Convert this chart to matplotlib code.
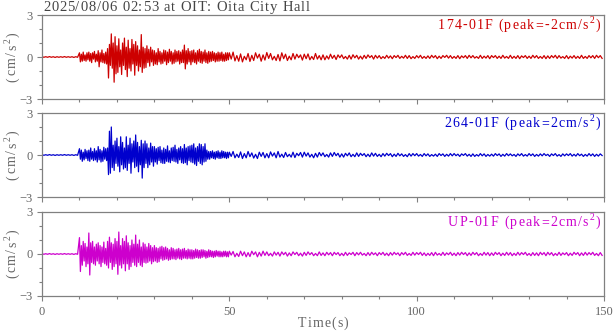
import numpy as np
import matplotlib
matplotlib.use("Agg")
import matplotlib.pyplot as plt
from matplotlib.font_manager import FontProperties, findfont, get_font

plt.rcParams['font.family'] = ['Liberation Serif', 'DejaVu Serif']

title = "2025/08/06 02:53 at OIT: Oita City Hall"
labels = [[("174-01F (peak=-2cm/s", False), ("2", True), (")", False)],
          [("264-01F (peak=2cm/s", False), ("2", True), (")", False)],
          [("UP-01F (peak=2cm/s", False), ("2", True), (")", False)]]
ylabel = [("(cm/s", False), ("2", True), (")", False)]
xlabel = "Time(s)"
colors = ["#cd0000", "#0000cd", "#cd00cd"]
x_ticks = [0, 50, 100, 150]
y_ticks = [-3, 0, 3]

# sample times (s)
t_pre = np.arange(0, 10, 0.5)
t_main = np.arange(10, 50, 0.25)
t_tail = np.arange(50, 150, 0.5)

pre_noise = [0.02, -0.02, 0.02, -0.02, 0.03, -0.02, 0.02, -0.03, 0.02, -0.02,
             0.02, -0.02, 0.03, -0.02, 0.02, -0.02, 0.02, -0.03, 0.02, -0.02]

red_main = [0.3, -0.35, 0.2, -0.3, 0.35, -0.25, 0.15, -0.3, 0.3, -0.2,
            0.35, -0.3, 0.25, -0.4, 0.3, -0.15, 0.4, -0.35, 0.2, -0.3,
            0.45, -0.7, 0.3, -0.35, 0.5, -0.4, 0.25, -0.45, 0.35, -0.5,
            0.6, -1.5, 0.9, -0.6, 1.65, -0.8, 1.0, -1.8, 1.45, -1.2,
            0.8, -1.1, 1.3, -0.7, 0.5, -1.25, 1.0, -0.6, 1.35, -0.9,
            0.7, -1.4, 1.2, -0.8, 0.6, -1.0, 1.25, -0.5, 0.9, -1.3,
            1.1, -0.6, 0.8, -1.0, 0.5, -0.7, 1.6, -1.1, 0.7, -0.8,
            0.6, -0.75, 0.8, -0.4, 0.55, -0.65, 0.7, -0.35, 0.5, -0.6,
            0.45, -0.5, 0.3, -0.55, 0.6, -0.35, 0.4, -0.5, 0.3, -0.45,
            0.5, -0.3, 0.45, -0.55, 0.35, -0.4, 0.55, -0.3, 0.4, -0.5,
            0.3, -0.45, 0.5, -0.35, 0.4, -0.3, 0.45, -0.5, 0.35, -0.4,
            0.5, -0.4, 0.85, -0.85, 0.45, -0.5, 0.6, -0.35, 0.4, -0.55,
            0.45, -0.35, 0.5, -0.4, 0.3, -0.5, 0.45, -0.3, 0.55, -0.4,
            0.4, -0.45, 0.35, -0.3, 0.5, -0.4, 0.3, -0.45, 0.4, -0.35,
            0.35, -0.3, 0.4, -0.25, 0.3, -0.35, 0.25, -0.3, 0.35, -0.3,
            0.3, -0.25, 0.35, -0.3, 0.2, -0.3, 0.3, -0.25, 0.3, -0.2]
red_tail = [0.3, -0.15, 0.35, -0.28, 0.1, -0.3, 0.22, -0.35, 0.05, -0.2,
            0.25, -0.32, 0.12, -0.25, 0.3, -0.08, 0.2, -0.3, 0.15, -0.22,
            0.32, -0.1, 0.25, -0.2, 0.05, -0.25, 0.18, -0.28, 0.3, -0.12,
            0.2, -0.25, 0.06, -0.2, 0.25, -0.15, 0.2, -0.05, 0.15, -0.22,
            0.2, -0.12, 0.22, -0.2, 0.04, -0.18, 0.25, -0.15, 0.1, -0.2,
            0.15, -0.2, 0.08, -0.15, 0.2, -0.1, 0.12, -0.18, 0.15, -0.05,
            0.15, -0.12, 0.04, -0.15, 0.12, -0.15, 0.16, -0.06, 0.12, -0.15,
            0.06, -0.15, 0.12, -0.1, 0.15, -0.04, 0.1, -0.15, 0.12, -0.08,
            0.1, -0.12, 0.03, -0.1, 0.12, -0.08, 0.08, -0.12, 0.1, -0.04,
            0.12, -0.1, 0.05, -0.08, 0.12, -0.1, 0.1, -0.12, 0.03, -0.1,
            0.1, -0.06, 0.12, -0.1, 0.04, -0.1, 0.08, -0.1, 0.12, -0.05,
            0.1, -0.12, 0.06, -0.1, 0.1, -0.03, 0.12, -0.08, 0.1, -0.1,
            0.04, -0.1, 0.1, -0.12, 0.08, -0.05, 0.1, -0.1, 0.12, -0.06,
            0.1, -0.08, 0.03, -0.1, 0.12, -0.1, 0.06, -0.08, 0.1, -0.12,
            0.1, -0.04, 0.1, -0.1, 0.06, -0.1, 0.12, -0.08, 0.04, -0.1,
            0.12, -0.1, 0.05, -0.1, 0.1, -0.12, 0.08, -0.04, 0.1, -0.1,
            0.06, -0.1, 0.12, -0.06, 0.1, -0.1, 0.04, -0.1, 0.1, -0.12,
            0.08, -0.1, 0.1, -0.05, 0.12, -0.1, 0.1, -0.08, 0.03, -0.1,
            0.1, -0.12, 0.06, -0.08, 0.1, -0.1, 0.05, -0.1, 0.12, -0.1,
            0.04, -0.1, 0.1, -0.06, 0.1, -0.1, 0.12, -0.05, 0.1, -0.1]

blue_main = [0.45, -0.3, 0.35, -0.45, 0.2, -0.35, 0.4, -0.25, 0.3, -0.4,
             0.35, -0.45, 0.5, -0.3, 0.25, -0.4, 0.45, -0.35, 0.3, -0.5,
             0.6, -0.35, 0.4, -0.5, 0.3, -0.45, 0.55, -0.3, 0.45, -0.4,
             0.5, -1.4, 1.7, -1.3, 2.0, -0.9, 0.7, -1.1, 1.0, -0.6,
             1.2, -0.8, 0.6, -1.2, 1.3, -0.7, 0.9, -1.0, 0.5, -0.9,
             1.3, -1.1, 0.7, -0.6, 1.2, -1.3, 0.8, -0.5, 1.0, -0.9,
             1.43, -0.8, 0.9, -1.2, 0.6, -0.7, 1.05, -1.65, 0.8, -0.9,
             1.0, -0.6, 0.8, -0.9, 0.5, -0.7, 0.85, -0.5, 0.6, -0.8,
             0.6, -0.5, 0.45, -0.65, 0.55, -0.4, 0.6, -0.55, 0.35, -0.6,
             0.5, -0.6, 0.4, -0.45, 0.65, -0.5, 0.3, -0.55, 0.5, -0.4,
             0.55, -0.45, 0.7, -0.5, 0.4, -0.6, 0.5, -0.35, 0.6, -0.55,
             0.45, -0.6, 0.75, -0.55, 0.5, -0.7, 0.6, -0.4, 0.65, -0.5,
             0.7, -0.55, 0.8, -0.65, 0.5, -0.75, 0.6, -0.45, 0.8, -0.6,
             0.75, -0.7, 0.6, -0.5, 0.8, -0.45, 0.35, -0.3, 0.25, -0.3,
             0.25, -0.2, 0.3, -0.25, 0.2, -0.3, 0.25, -0.2, 0.3, -0.25,
             0.2, -0.25, 0.3, -0.2, 0.25, -0.2, 0.2, -0.25, 0.2, -0.2]
blue_tail = [0.2, -0.1, 0.25, -0.2, 0.06, -0.18, 0.22, -0.25, 0.1, -0.2,
             0.25, -0.12, 0.15, -0.22, 0.05, -0.25, 0.2, -0.1, 0.18, -0.2,
             0.1, -0.2, 0.22, -0.08, 0.15, -0.2, 0.25, -0.15, 0.06, -0.18,
             0.18, -0.12, 0.05, -0.15, 0.2, -0.18, 0.12, -0.05, 0.18, -0.15,
             0.2, -0.08, 0.15, -0.15, 0.05, -0.2, 0.12, -0.15, 0.18, -0.06,
             0.15, -0.12, 0.04, -0.15, 0.15, -0.1, 0.18, -0.05, 0.12, -0.15,
             0.08, -0.15, 0.12, -0.06, 0.15, -0.12, 0.05, -0.12, 0.15, -0.1,
             0.12, -0.04, 0.1, -0.12, 0.06, -0.12, 0.15, -0.08, 0.12, -0.1,
             0.05, -0.12, 0.1, -0.08, 0.12, -0.04, 0.1, -0.12, 0.06, -0.1,
             0.12, -0.06, 0.08, -0.1, 0.03, -0.12, 0.1, -0.08, 0.1, -0.05,
             0.1, -0.08, 0.04, -0.1, 0.1, -0.06, 0.08, -0.1, 0.03, -0.08,
             0.06, -0.1, 0.1, -0.04, 0.08, -0.1, 0.05, -0.08, 0.1, -0.06,
             0.1, -0.05, 0.06, -0.1, 0.08, -0.03, 0.1, -0.08, 0.05, -0.1,
             0.08, -0.1, 0.03, -0.08, 0.1, -0.06, 0.08, -0.1, 0.04, -0.08,
             0.06, -0.08, 0.1, -0.04, 0.08, -0.1, 0.05, -0.08, 0.1, -0.05,
             0.08, -0.06, 0.04, -0.1, 0.08, -0.05, 0.1, -0.08, 0.03, -0.08,
             0.1, -0.05, 0.08, -0.1, 0.04, -0.08, 0.08, -0.06, 0.1, -0.04,
             0.05, -0.1, 0.08, -0.04, 0.1, -0.08, 0.03, -0.1, 0.08, -0.06,
             0.08, -0.04, 0.1, -0.08, 0.05, -0.08, 0.1, -0.05, 0.06, -0.1,
             0.04, -0.08, 0.1, -0.06, 0.08, -0.1, 0.05, -0.08, 0.08, -0.04]

mag_main = [1.17, -1.25, 0.6, -0.8, 0.9, -0.5, 0.75, -0.9, 0.5, -0.7,
            1.5, -1.5, 0.8, -0.6, 0.9, -0.7, 0.5, -0.8, 0.7, -0.5,
            0.8, -0.7, 0.6, -0.9, 0.5, -0.6, 0.85, -0.7, 0.4, -0.8,
            0.9, -1.0, 1.2, -0.6, 0.8, -1.1, 0.7, -0.9, 1.1, -0.7,
            0.9, -1.45, 1.57, -0.8, 0.6, -1.0, 1.1, -0.7, 0.9, -1.2,
            1.3, -0.7, 0.8, -1.1, 0.6, -0.9, 1.0, -0.6, 0.7, -0.8,
            1.35, -0.9, 0.7, -0.6, 1.0, -0.8, 0.5, -0.9, 0.8, -0.6,
            0.7, -0.65, 0.5, -0.6, 0.75, -0.5, 0.6, -0.7, 0.45, -0.55,
            0.6, -0.5, 0.45, -0.6, 0.4, -0.55, 0.5, -0.35, 0.55, -0.45,
            0.45, -0.4, 0.5, -0.35, 0.4, -0.45, 0.3, -0.4, 0.45, -0.35,
            0.4, -0.35, 0.3, -0.4, 0.35, -0.3, 0.4, -0.35, 0.3, -0.4,
            0.35, -0.3, 0.4, -0.3, 0.25, -0.35, 0.35, -0.3, 0.3, -0.35,
            0.3, -0.35, 0.25, -0.3, 0.35, -0.25, 0.3, -0.3, 0.25, -0.3,
            0.3, -0.25, 0.3, -0.2, 0.25, -0.3, 0.2, -0.25, 0.3, -0.2,
            0.25, -0.2, 0.2, -0.25, 0.2, -0.2, 0.25, -0.15, 0.2, -0.2,
            0.2, -0.2, 0.15, -0.2, 0.2, -0.15, 0.2, -0.2, 0.15, -0.2]
mag_tail = [0.2, -0.08, 0.18, -0.2, 0.05, -0.18, 0.2, -0.12, 0.15, -0.2,
            0.1, -0.18, 0.2, -0.05, 0.15, -0.2, 0.12, -0.15, 0.2, -0.1,
            0.15, -0.12, 0.05, -0.15, 0.15, -0.08, 0.12, -0.15, 0.15, -0.05,
            0.12, -0.15, 0.08, -0.12, 0.15, -0.04, 0.12, -0.12, 0.06, -0.15,
            0.12, -0.1, 0.15, -0.05, 0.1, -0.12, 0.04, -0.12, 0.15, -0.1,
            0.08, -0.12, 0.12, -0.06, 0.1, -0.12, 0.12, -0.04, 0.1, -0.12,
            0.05, -0.12, 0.12, -0.1, 0.08, -0.04, 0.12, -0.12, 0.1, -0.06,
            0.12, -0.08, 0.04, -0.12, 0.1, -0.1, 0.12, -0.05, 0.08, -0.12,
            0.1, -0.05, 0.12, -0.1, 0.06, -0.12, 0.1, -0.08, 0.12, -0.04,
            0.08, -0.12, 0.1, -0.05, 0.12, -0.1, 0.04, -0.1, 0.12, -0.08,
            0.1, -0.04, 0.12, -0.1, 0.08, -0.12, 0.05, -0.1, 0.1, -0.12,
            0.12, -0.08, 0.04, -0.1, 0.12, -0.1, 0.08, -0.05, 0.12, -0.1,
            0.06, -0.12, 0.1, -0.08, 0.12, -0.04, 0.1, -0.12, 0.08, -0.1,
            0.12, -0.05, 0.1, -0.12, 0.04, -0.1, 0.12, -0.08, 0.1, -0.12,
            0.08, -0.1, 0.12, -0.04, 0.1, -0.12, 0.06, -0.1, 0.12, -0.08,
            0.1, -0.12, 0.05, -0.1, 0.12, -0.08, 0.1, -0.04, 0.12, -0.1,
            0.04, -0.12, 0.1, -0.1, 0.08, -0.12, 0.12, -0.05, 0.1, -0.12,
            0.12, -0.06, 0.1, -0.12, 0.04, -0.1, 0.12, -0.1, 0.08, -0.05,
            0.1, -0.12, 0.06, -0.1, 0.12, -0.04, 0.1, -0.12, 0.08, -0.1,
            0.12, -0.08, 0.1, -0.05, 0.12, -0.1, 0.04, -0.12, 0.1, -0.1]

traces = [(red_main, red_tail), (blue_main, blue_tail), (mag_main, mag_tail)]

FW, FH = 616, 334
fig = plt.figure(figsize=(FW / 100, FH / 100), dpi=100)

_font = get_font(findfont(FontProperties(family='Liberation Serif')))


def _adv(c, size):
    _font.set_size(size, 100)
    g = _font.load_char(ord(c))
    return g.linearHoriAdvance / 65536.0


def spaced_text(x_px, y_px, segs, size, color, width_px, align='left', vertical=False):
    """Letter-spaced text; x_px,y_px = baseline anchor in figure pixels (from top-left)."""
    items = []
    for s, sup in segs:
        for c in s:
            items.append((c, size * 0.7 if sup else size, size * 0.42 * 100 / 72 if sup else 0.0))
    advs = [_adv(c, sz) for c, sz, _ in items]
    sp = (width_px - sum(advs)) / max(len(items) - 1, 1)
    if align == 'left':
        start = 0.0
    elif align == 'right':
        start = -width_px
    else:
        start = -width_px / 2
    pos = start
    for (c, sz, rise), a in zip(items, advs):
        if not vertical:
            fig.text((x_px + pos) / FW, 1 - (y_px - rise) / FH, c, fontsize=sz, color=color,
                     ha='left', va='baseline')
        else:
            fig.text((x_px - rise) / FW, 1 - (y_px - pos) / FH, c, fontsize=sz, color=color,
                     ha='left', va='baseline', rotation=90, rotation_mode='anchor')
        pos += a + sp


L, W, H = 42 / FW, 562 / FW, 84 / FH
tops_px = [15, 113, 212]
frame = "#808080"
tcol = "#666666"

for i, ((mv, tv), lab, col) in enumerate(zip(traces, labels, colors)):
    top = tops_px[i]
    ax = fig.add_axes([L, 1 - (top + 84) / FH, W, H])
    t = np.concatenate([t_pre, t_main, t_tail])
    v = np.concatenate([pre_noise, mv, tv])
    ax.plot(t, v, color=col, lw=0.9)
    ax.set_xlim(0, 150)
    ax.set_ylim(-3, 3)
    ax.set_xticks(x_ticks)
    ax.set_xticks(np.arange(0, 151, 10), minor=True)
    ax.set_yticks(y_ticks)
    ax.set_yticks(np.arange(-3, 4, 1), minor=True)
    for s in ax.spines.values():
        s.set_color(frame)
        s.set_linewidth(0.9)
    ax.tick_params(which='major', direction='out', length=3.5, width=0.8, color=frame,
                   labelcolor=tcol, labelsize=9, pad=3)
    ax.tick_params(which='minor', direction='out', length=2.5, width=0.8, color=frame)
    ax.tick_params(axis='x', which='major', pad=4)
    if i < 2:
        ax.tick_params(labelbottom=False)
    spaced_text(16, top + 42 + 24.5, ylabel, 10, tcol, 49, align='left', vertical=True)
    spaced_text(600, top + 14, lab, 10, col, [162, 156, 152][i], align='right')

spaced_text(43, 11, [(title, False)], 10.5, "#444444", 267, align='left')
spaced_text(323, 327, [(xlabel, False)], 10, tcol, 50, align='center')

fig.savefig("out.png", dpi=100)
